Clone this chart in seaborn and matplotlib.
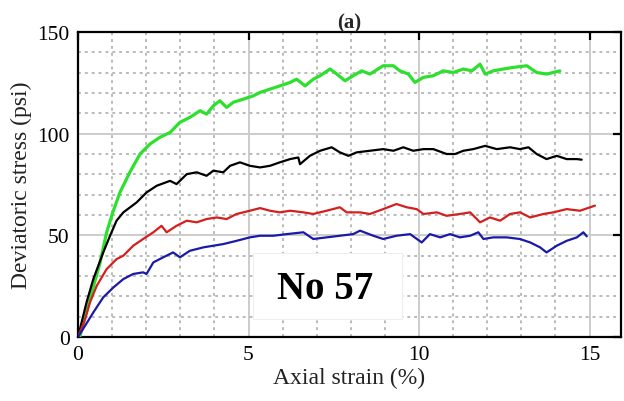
import numpy as np
import pandas as pd
import matplotlib
matplotlib.use("Agg")
import matplotlib.pyplot as plt
from matplotlib.patches import Rectangle
from matplotlib.ticker import MultipleLocator
import seaborn as sns

# Axial strain (%) and deviatoric stress (psi) for the four confining levels
green_strain = [0.0, 0.06, 0.35, 0.65, 0.84, 1.02, 1.23, 1.52, 1.82, 2.11, 2.40, 2.70, 2.99, 3.28, 3.58, 3.77,
                3.97, 4.16, 4.36, 4.55, 4.85, 5.14, 5.34, 5.63, 5.92, 6.22, 6.41, 6.66, 6.90, 7.10, 7.39, 7.59,
                7.83, 8.07, 8.32, 8.56, 8.95, 9.25, 9.44, 9.69, 9.88, 10.13, 10.42, 10.71, 11.01, 11.30, 11.55,
                11.79, 11.94, 12.18, 12.47, 12.77, 13.16, 13.45, 13.74, 13.94, 14.13]
green_stress = [0.0, 0.5, 18.7, 36.7, 51.5, 61.3, 71.1, 81.0, 90.0, 94.9, 98.2, 100.6, 105.6, 108.0, 111.3, 109.6,
                113.7, 116.2, 112.9, 115.4, 117.0, 118.6, 120.3, 121.9, 123.5, 125.2, 126.8, 123.5, 126.8, 128.5,
                131.8, 129.3, 126.0, 128.5, 130.9, 129.3, 133.4, 133.4, 130.9, 129.3, 125.2, 127.7, 128.5, 130.9,
                130.1, 131.8, 130.9, 134.2, 129.3, 130.9, 131.8, 132.6, 133.4, 130.1, 129.3, 130.1, 130.9]

black_strain = [0.0, 0.25, 0.45, 0.74, 0.94, 1.13, 1.33, 1.72, 2.01, 2.31, 2.70, 2.89, 3.19, 3.48, 3.77, 3.97,
                4.26, 4.46, 4.75, 5.04, 5.34, 5.63, 5.92, 6.22, 6.46, 6.51, 6.80, 7.10, 7.44, 7.68, 7.93, 8.17,
                8.56, 8.95, 9.25, 9.54, 9.83, 10.13, 10.42, 10.81, 11.06, 11.30, 11.59, 11.94, 12.28, 12.67,
                12.96, 13.21, 13.45, 13.74, 14.04, 14.33, 14.63, 14.77]
black_stress = [0.0, 17.0, 28.5, 41.6, 49.8, 57.2, 61.3, 66.2, 71.1, 74.4, 76.8, 75.2, 80.1, 81.0, 79.3, 81.8,
                81.0, 84.2, 85.9, 84.2, 83.4, 84.2, 85.9, 87.5, 88.3, 85.0, 89.1, 91.6, 93.3, 90.8, 89.1, 90.8,
                91.6, 92.4, 91.6, 93.3, 91.6, 92.4, 92.4, 90.0, 90.0, 91.6, 92.4, 94.0, 92.4, 93.3,
                92.4, 93.3, 90.0, 87.5, 89.1, 87.5, 87.5, 87.2]

red_strain = [0.0, 0.21, 0.35, 0.55, 0.84, 1.13, 1.33, 1.62, 1.91, 2.21, 2.45, 2.60, 2.89, 3.19, 3.48, 3.77,
              4.07, 4.36, 4.65, 5.04, 5.34, 5.63, 5.92, 6.22, 6.61, 6.90, 7.29, 7.68, 7.88, 8.27, 8.56, 8.95,
              9.34, 9.64, 9.93, 10.13, 10.52, 10.81, 11.20, 11.50, 11.79, 12.08, 12.38, 12.67, 12.96, 13.26,
              13.65, 13.94, 14.33, 14.72, 15.16]
red_stress = [0.0, 8.8, 17.0, 25.2, 33.4, 38.3, 40.0, 44.9, 48.2, 51.5, 54.7, 51.5, 54.7, 57.2, 56.4, 58.0,
              58.8, 58.0, 60.5, 62.1, 63.4, 62.1, 61.3, 62.1, 61.3, 60.5, 62.1, 63.8, 61.3, 61.3, 60.5, 62.9,
              65.4, 63.8, 62.9, 60.5, 61.3, 59.6, 60.5, 61.3, 56.4, 58.8, 57.2, 60.5, 61.3, 58.8,
              60.5, 61.3, 62.9, 62.1, 64.6]

blue_strain = [0.0, 0.21, 0.45, 0.74, 1.04, 1.33, 1.62, 1.91, 2.01, 2.21, 2.50, 2.79, 2.99, 3.28, 3.68, 3.97,
               4.26, 4.65, 5.04, 5.34, 5.73, 6.12, 6.61, 6.90, 7.29, 7.68, 8.07, 8.27, 8.66, 8.95, 9.34, 9.74,
               10.08, 10.32, 10.62, 10.91, 11.20, 11.50, 11.74, 11.89, 12.18, 12.57, 12.96, 13.26, 13.55,
               13.74, 14.04, 14.33, 14.63, 14.82, 14.92]
blue_stress = [0.0, 5.6, 12.1, 19.5, 24.4, 28.5, 31.0, 31.8, 31.0, 36.7, 39.2, 41.6, 39.2, 42.4, 44.1, 44.9,
               45.7, 47.3, 49.0, 49.8, 49.8, 50.6, 51.5, 48.2, 49.0, 49.8, 50.6, 52.3, 49.8, 48.2, 49.8, 50.6,
               46.5, 50.6, 49.0, 50.6, 49.0, 49.8, 51.5, 48.2, 49.0, 49.0, 48.2, 46.5, 44.1,
               41.6, 44.9, 47.3, 49.0, 51.5, 49.5]

series = {
    "green": (green_strain, green_stress),
    "black": (black_strain, black_stress),
    "red": (red_strain, red_stress),
    "blue": (blue_strain, blue_stress),
}
palette = {"green": "#2ee02e", "black": "#000000", "red": "#d41f1f", "blue": "#1a1aa8"}
widths = {"green": 2.3, "black": 1.6, "red": 1.6, "blue": 1.6}

x_ticks = [0, 5, 10, 15]
y_ticks = [0, 50, 100, 150]
title_text = "(a)"
x_label = "Axial strain (%)"
y_label = "Deviatoric stress (psi)"
box_label = "No 57"

frames = []
for name, (xs, ys) in series.items():
    frames.append(pd.DataFrame({"strain": xs, "stress": ys, "test": name}))
df = pd.concat(frames, ignore_index=True)

sns.set_style("white")
plt.rcParams["font.family"] = ["Liberation Serif", "DejaVu Serif"]

fig = plt.figure(figsize=(6.24, 4.02), dpi=100)
ax = fig.add_axes([0.125, 0.1592, 0.870, 0.7587])

for name in series:
    sns.lineplot(data=df[df["test"] == name], x="strain", y="stress", color=palette[name],
                 linewidth=widths[name], sort=False, estimator=None, ax=ax, zorder=4,
                 solid_joinstyle="round", solid_capstyle="round")

ax.set_xlim(0, 15.92)
ax.set_ylim(0, 150)
ax.set_xticks(x_ticks)
ax.set_yticks(y_ticks)
ax.xaxis.set_minor_locator(MultipleLocator(1))
ax.yaxis.set_minor_locator(MultipleLocator(10))

ax.grid(which="major", color="#cccccc", linewidth=1.4, linestyle="-", zorder=0)
ax.grid(which="minor", color="#b4b4b4", linewidth=1.3, linestyle=(0, (1.6, 2.2)), zorder=0)
ax.set_axisbelow(True)

ax.tick_params(which="major", direction="in", length=6, width=1.6, top=True, right=True,
               labelsize=15.5, pad=6, colors="black")
ax.tick_params(which="minor", length=0)
for sp in ax.spines.values():
    sp.set_visible(True)
    sp.set_linewidth(1.6)
    sp.set_color("black")

ax.set_xlabel(x_label, fontsize=17, color="#222222", labelpad=2)
ax.set_ylabel(y_label, fontsize=17, color="#222222", labelpad=4)
ax.set_title(title_text, fontsize=15, fontweight="bold", pad=3)

# Sample label on a white panel
ax.add_patch(Rectangle((5.13, 8.9), 4.37, 32.4, facecolor="white", edgecolor="#eeeeee",
                       linewidth=0.8, zorder=2))
ax.text(7.25, 24.0, box_label, fontsize=28, fontweight="bold", ha="center", va="center",
        color="black", zorder=3)

fig.savefig("out.png", dpi=100)
